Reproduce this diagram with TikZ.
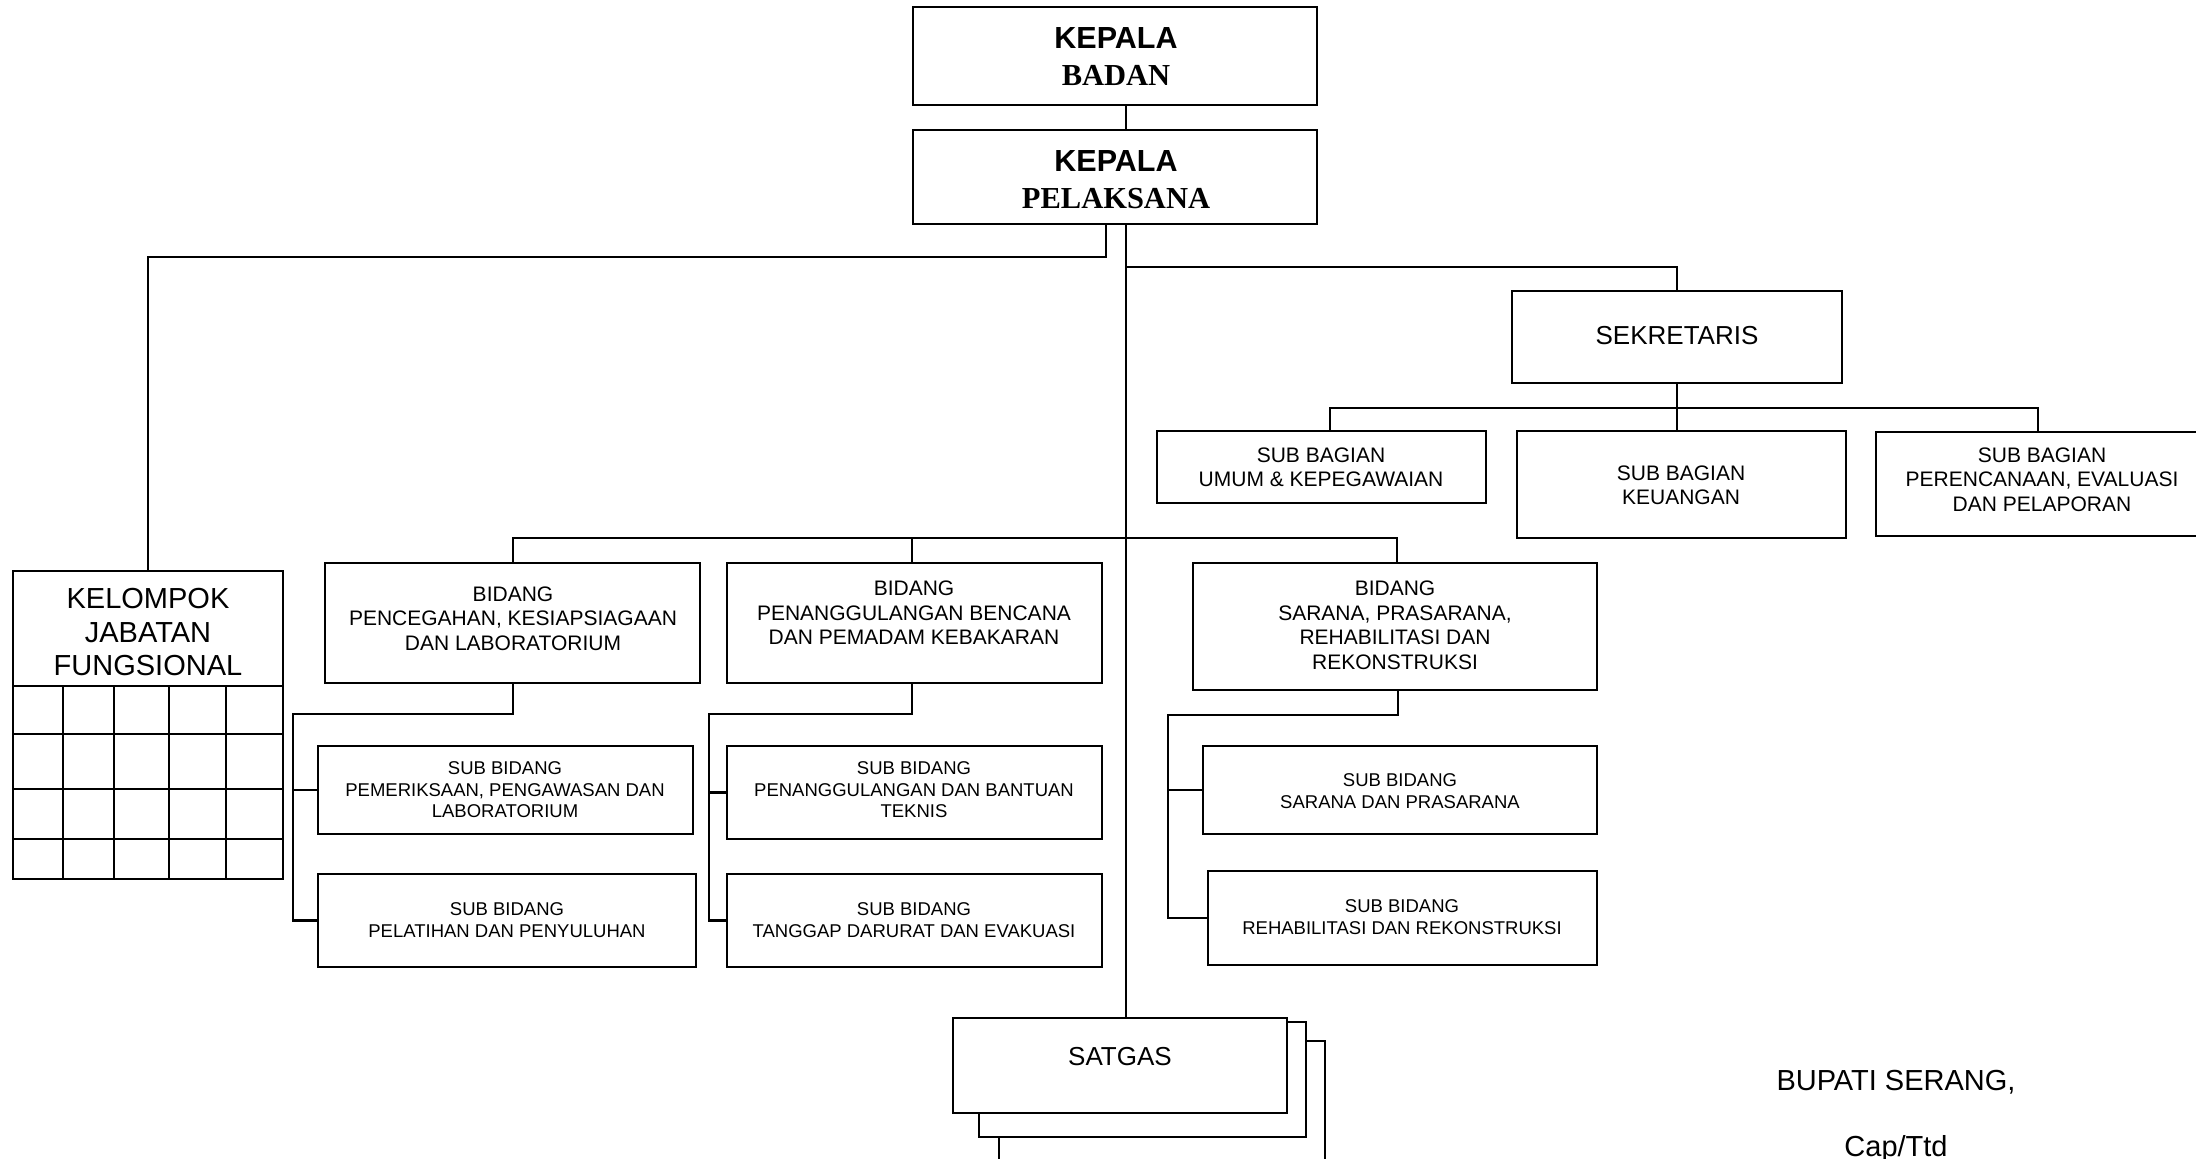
\documentclass[tikz,border=0pt]{standalone}
\usepackage{fontspec}
\setmainfont{Liberation Sans}
\newfontfamily\timesbold[BoldFont={Liberation Serif Bold}]{Liberation Serif}
\usetikzlibrary{fit}

\begin{document}
\begin{tikzpicture}[x=1pt,y=-1pt,
  every node/.style={inner sep=0pt, outer sep=0pt},
  box/.style={draw, line width=2.2pt, fill=white, rectangle},
  link/.style={line width=2.2pt},
  gridline/.style={line width=2.2pt},
  txt/.style={align=center},
  fhead/.style={font=\fontsize{30.5}{37}\selectfont\bfseries},
  fbig/.style={font=\fontsize{29}{33.5}\selectfont},
  fmid/.style={font=\fontsize{26}{30}\selectfont},
  fsm/.style={font=\fontsize{21}{24.5}\selectfont},
  fxs/.style={font=\fontsize{18.5}{21.5}\selectfont}]

\useasboundingbox (0,0) rectangle (2196,1159);
\fill[white] (0,0) rectangle (2196,1159);
\clip (0,0) rectangle (2196,1159);

% ---- boxes ----
\node[box, fit={(913,7) (1317,105)}] (kb) {};
\node[box, fit={(913,130) (1317,224)}] (kp) {};
\node[box, fit={(1512,291) (1842,383)}] (sek) {};
\node[box, fit={(1157,431) (1486,503)}] (umum) {};
\node[box, fit={(1517,431) (1846,538)}] (keu) {};
\node[box, fit={(1876,432) (2215,536)}] (pren) {};
\node[box, fit={(13,571) (283,879)}] (kjf) {};
\node[box, fit={(325,563) (700,683)}] (b1) {};
\node[box, fit={(727,563) (1102,683)}] (b2) {};
\node[box, fit={(1193,563) (1597,690)}] (b3) {};
\node[box, fit={(318,746) (693,834)}] (s1a) {};
\node[box, fit={(318,874) (696,967)}] (s1b) {};
\node[box, fit={(727,746) (1102,839)}] (s2a) {};
\node[box, fit={(727,874) (1102,967)}] (s2b) {};
\node[box, fit={(1203,746) (1597,834)}] (s3a) {};
\node[box, fit={(1208,871) (1597,965)}] (s3b) {};
\node[box, fit={(999,1041) (1325,1180)}] (sat3) {};
\node[box, fit={(979,1022) (1306,1137)}] (sat2) {};
\node[box, fit={(953,1018) (1287,1113)}] (sat) {};

% grid of the functional group
\draw[gridline] (13,686) -- (283,686);
\foreach \yy in {734,789,839} \draw[gridline] (13,\yy) -- (283,\yy);
\foreach \xx in {63,114,169,226} \draw[gridline] (\xx,686) -- (\xx,879);

% ---- texts ----
\node[txt, fhead] (kb-t) at (1116,57) {KEPALA\\{\timesbold\bfseries BADAN}};
\node[txt, fhead] (kp-t) at (1116,180) {KEPALA\\{\timesbold\bfseries PELAKSANA}};
\node[txt, fmid] (sek-t) at (1677,336) {SEKRETARIS};
\node[txt, fsm] (umum-t) at (1321,467.5) {SUB BAGIAN\\UMUM \& KEPEGAWAIAN};
\node[txt, fsm] (keu-t) at (1681,485.5) {SUB BAGIAN\\KEUANGAN};
\node[txt, fsm] (pren-t) at (2042,479.5) {SUB BAGIAN\\PERENCANAAN, EVALUASI\\DAN PELAPORAN};
\node[txt, fbig] (kjf-t) at (148,632.5) {KELOMPOK\\JABATAN\\FUNGSIONAL};
\node[txt, fsm] (b1-t) at (513,618.5) {BIDANG\\PENCEGAHAN, KESIAPSIAGAAN\\DAN LABORATORIUM};
\node[txt, fsm] (b2-t) at (914,613) {BIDANG\\PENANGGULANGAN BENCANA\\DAN PEMADAM KEBAKARAN};
\node[txt, fsm] (b3-t) at (1395,625.5) {BIDANG\\SARANA, PRASARANA,\\REHABILITASI DAN\\REKONSTRUKSI};
\node[txt, fxs] (s1a-t) at (505,790) {SUB BIDANG\\PEMERIKSAAN, PENGAWASAN DAN\\LABORATORIUM};
\node[txt, fxs] (s1b-t) at (507,920) {SUB BIDANG\\PELATIHAN DAN PENYULUHAN};
\node[txt, fxs] (s2a-t) at (914,790) {SUB BIDANG\\PENANGGULANGAN DAN BANTUAN\\TEKNIS};
\node[txt, fxs] (s2b-t) at (914,920) {SUB BIDANG\\TANGGAP DARURAT DAN EVAKUASI};
\node[txt, fxs] (s3a-t) at (1400,791) {SUB BIDANG\\SARANA DAN PRASARANA};
\node[txt, fxs] (s3b-t) at (1402,917) {SUB BIDANG\\REHABILITASI DAN REKONSTRUKSI};
\node[txt, fmid] (sat-t) at (1120,1057) {SATGAS};
\node[txt, fbig] (bupati) at (1896,1082) {BUPATI SERANG,};
\node[txt, fbig] (ttd) at (1896,1149) {Cap/Ttd};

% ---- connectors ----
\coordinate (tx) at (1126,0);
\coordinate (lx) at (1106,257);
\coordinate (sekbend) at (1126,267);
\coordinate (bagL) at (1330,408);
\coordinate (bagR) at (2038,408);
\coordinate (bidL) at (513,538);
\coordinate (bidR) at (1397,538);
\coordinate (b2x) at (912,538);
\coordinate (b1k) at (513,714);
\coordinate (b1r) at (293,714);
\coordinate (b2k) at (912,714);
\coordinate (b2r) at (709,714);
\coordinate (b3k) at (1398,715);
\coordinate (b3r) at (1168,715);

\draw[link] (kb.south -| tx) -- (kp.north -| tx);
\draw[link] (kp.south -| lx) -- (lx) -| (kjf.north);
\draw[link] (kp.south -| tx) -- (sat.north -| tx);
\draw[link] (sekbend) -| (sek.north);
\draw[link] (sek.south) -- (keu.north -| sek.south);
\draw[link] (umum.north -| bagL) -- (bagL) -- (bagR) -- (pren.north -| bagR);
\draw[link] (b1.north -| bidL) -- (bidL) -- (bidR) -- (b3.north -| bidR);
\draw[link] (b2.north -| b2x) -- (b2x);
\draw[link] (b1.south -| b1k) -- (b1k) -- (b1r) |- (s1b.west);
\draw[link] (b1r |- s1a.west) -- (s1a.west);
\draw[link] (b2.south -| b2k) -- (b2k) -- (b2r) |- (s2b.west);
\draw[link] (b2r |- s2a.west) -- (s2a.west);
\draw[link] (b3.south -| b3k) -- (b3k) -- (b3r) |- (s3b.west);
\draw[link] (b3r |- s3a.west) -- (s3a.west);
\end{tikzpicture}
\end{document}
